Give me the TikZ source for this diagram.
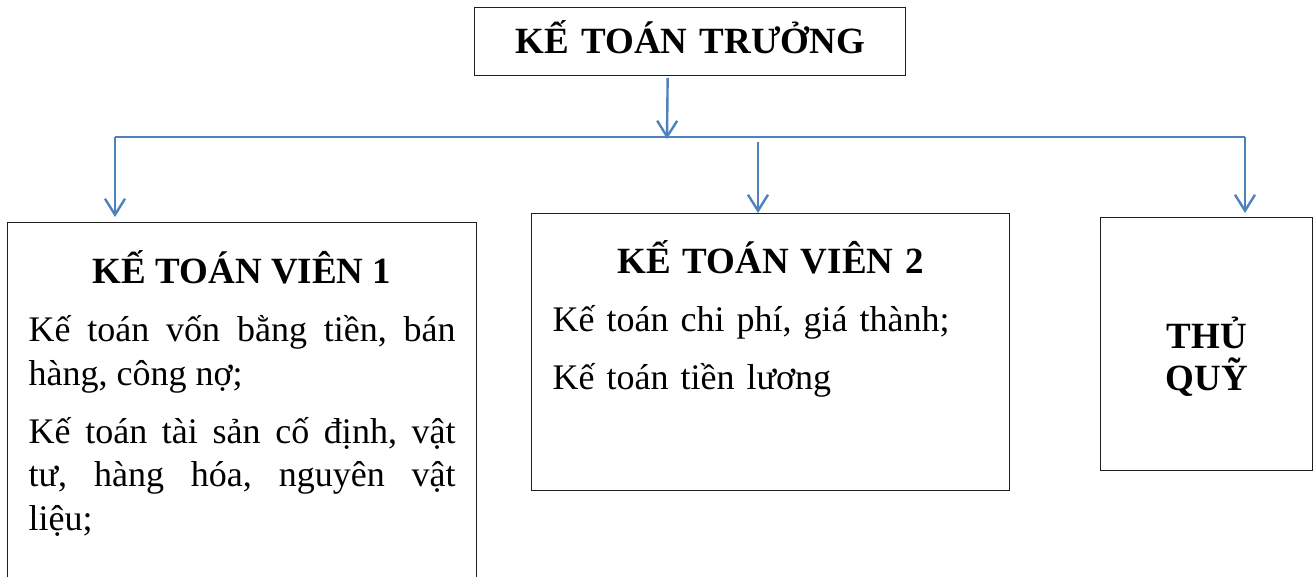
\documentclass[tikz,border=0pt]{standalone}
\usepackage{fontspec}
\setmainfont{Liberation Serif}
\usepackage{tikz}
\usetikzlibrary{arrows.meta,calc}
\definecolor{linkcolor}{RGB}{79,129,189}
\definecolor{framecolor}{RGB}{30,30,30}
\newcommand{\boxhead}[1]{{\centering\fontsize{37}{43.5}\selectfont\textbf{#1}\par}}

\begin{document}
\begin{tikzpicture}[
    x=1pt, y=-1pt,
    box/.style={rectangle, draw=framecolor, line width=1.3pt, anchor=north west, inner xsep=21pt, inner ysep=0pt,
        font={\fontsize{36}{43.5}\selectfont\setlength{\parskip}{14.5pt}\hyphenpenalty=10000\tolerance=9999}},
    link/.style={draw=linkcolor, line width=2.4pt},
    arrow/.style={link, -{Straight Barb[length=16pt, width=20pt]}}
]
\useasboundingbox (0,0) rectangle (1314,577);

\node[box, text width=389pt, align=center, text height=46pt, text depth=22pt,
    font={\fontsize{37}{43.5}\selectfont\bfseries}] (chief) at (474,7) {KẾ TOÁN TRƯỞNG};

\node[box, text width=427pt, align=justify, text height=61pt, text depth=337pt] (kt1) at (7,222) {\boxhead{KẾ TOÁN VIÊN 1}
Kế~toán~vốn~bằng~tiền,~bán\linebreak hàng,~công~nợ;\par
Kế~toán~tài~sản~cố~định,~vật\linebreak tư,~hàng~hóa,~nguyên~vật\linebreak liệu;};
\node[box, text width=436pt, align=left, text height=60pt, text depth=217pt] (kt2) at (531,213) {\boxhead{KẾ TOÁN VIÊN 2}
Kế toán chi phí, giá thành;\par
Kế toán tiền lương};
\node[box, text width=170pt, align=center, text height=131pt, text depth=122pt,
    font={\fontsize{37}{42}\selectfont\bfseries}] (quy) at (1100,217) {THỦ\\QUỸ};

\coordinate (hub) at (667,139);
\coordinate (busL) at (115,137);
\coordinate (busR) at (1245,137);
\coordinate (drop2) at (758,142);

\draw[arrow] ($(chief.south)+(-22.5,1.5)$) -- (hub);
\draw[link] (busL) -- (busR);
\draw[arrow, shorten >=5pt] (busL) -- (busL |- kt1.north);
\draw[arrow] (drop2) -- (drop2 |- kt2.north);
\draw[arrow, shorten >=4pt] (busR) -- (busR |- quy.north);

\end{tikzpicture}
\end{document}
